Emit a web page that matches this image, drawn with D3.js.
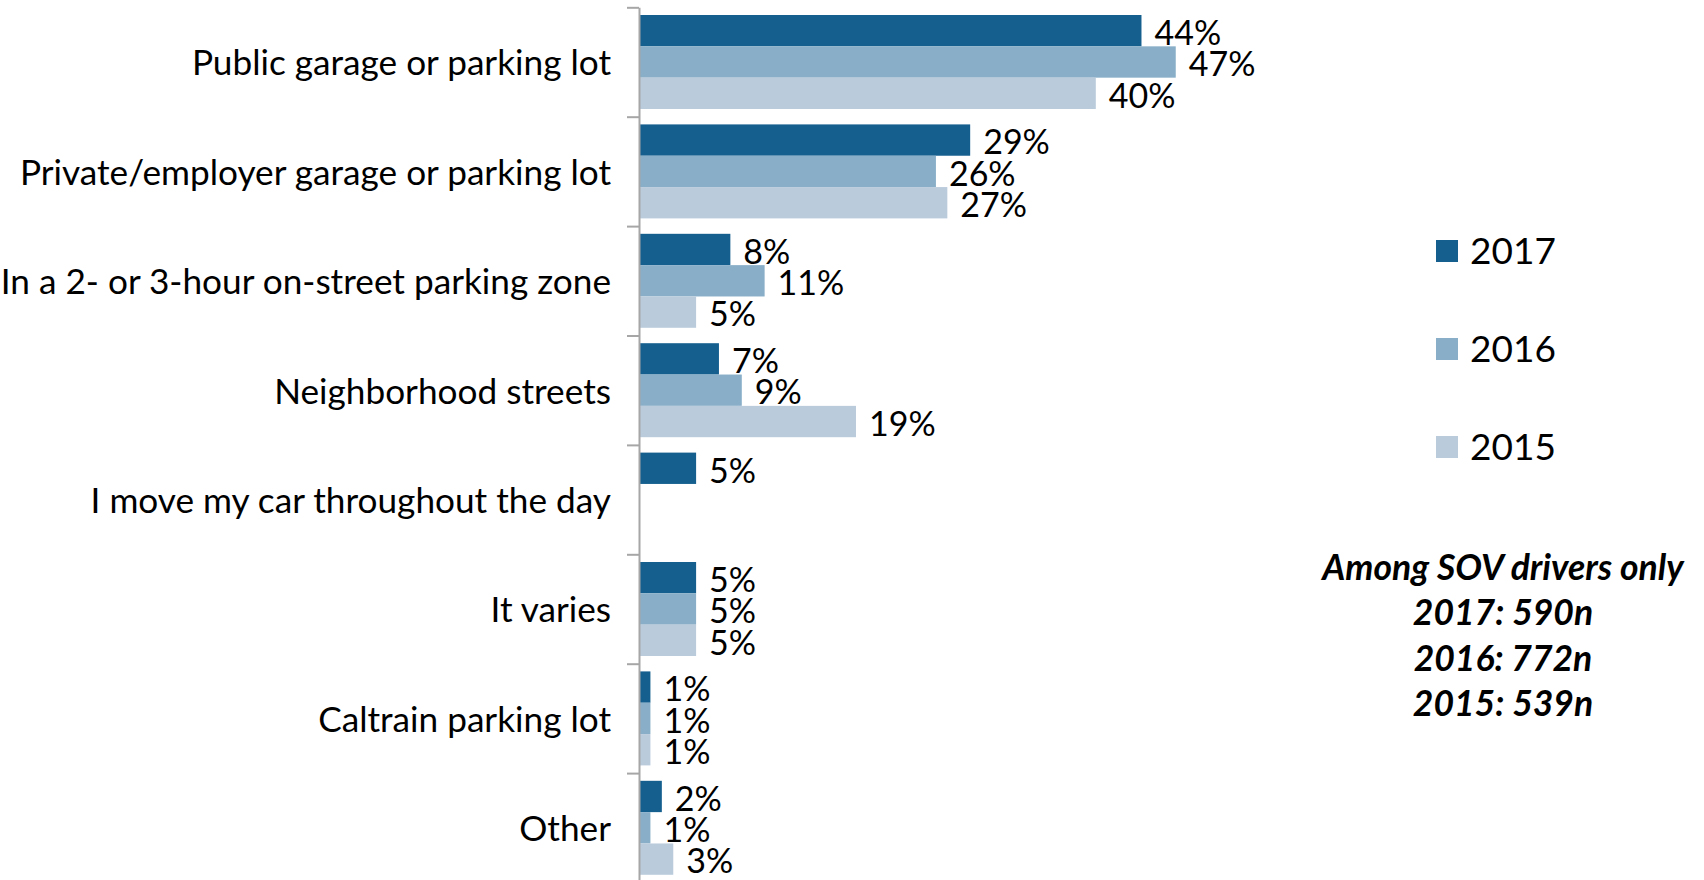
<!DOCTYPE html>
<html>
<head>
<meta charset="utf-8">
<script src="https://cdn.jsdelivr.net/npm/d3@7"></script>
<style>
  html, body { margin: 0; padding: 0; background: #ffffff; }
  svg { display: block; }
  text { font-family: Lato, "Noto Sans", sans-serif; fill: #000; }
</style>
</head>
<body>
<svg id="chart" width="1704" height="880"></svg>
<script>
// Where SOV drivers park, by survey year (percent of respondents)
const categories = [
  "Public garage or parking lot",
  "Private/employer garage or parking lot",
  "In a 2- or 3-hour on-street parking zone",
  "Neighborhood streets",
  "I move my car throughout the day",
  "It varies",
  "Caltrain parking lot",
  "Other"
];
const years = ["2017", "2016", "2015"];
const values2017 = [44, 29, 8, 7, 5, 5, 1, 2];
const values2016 = [47, 26, 11, 9, null, 5, 1, 1];
const values2015 = [40, 27, 5, 19, null, 5, 1, 3];
const seriesColors = ["#155f8f", "#88aec8", "#bacbdc"];
const noteLines = ["Among SOV drivers only", "2017: 590n", "2016: 772n", "2015: 539n"];

const seriesValues = [values2017, values2016, values2015];
const rows = categories.map((c, i) => ({
  category: c,
  bars: years.map((yr, j) => ({ year: yr, value: seriesValues[j][i], color: seriesColors[j] }))
}));

const svg = d3.select("#chart");

// Layout
const axisX = 639;
const plotTop = 7.3;
const bandStep = 109.4;
const pxPerPercent = 11.42;

const x = d3.scaleLinear().domain([0, 50]).range([axisX, axisX + 50 * pxPerPercent]);
const y = d3.scaleBand().domain(categories)
  .range([plotTop, plotTop + categories.length * bandStep]).padding(0);
const yInner = d3.scaleBand().domain(years)
  .range([0, y.bandwidth()]).paddingInner(0).paddingOuter(0.246);

// Bars
const groups = svg.append("g").attr("class", "bars")
  .selectAll("g").data(rows).join("g")
  .attr("transform", d => `translate(0,${y(d.category)})`);

groups.selectAll("rect")
  .data(d => d.bars.filter(b => b.value != null))
  .join("rect")
  .attr("x", x(0))
  .attr("y", b => yInner(b.year))
  .attr("width", b => x(b.value) - x(0))
  .attr("height", yInner.bandwidth())
  .attr("fill", b => b.color);

// Value labels
groups.selectAll("text")
  .data(d => d.bars.filter(b => b.value != null))
  .join("text")
  .attr("x", b => x(b.value) + 13)
  .attr("y", b => yInner(b.year) + yInner.bandwidth() / 2)
  .attr("dy", "0.42em")
  .style("font-size", "34px")
  .text(b => b.value + "%");

// Category axis with tick marks between the categories
const yEdges = d3.scaleLinear().domain([0, categories.length]).range(y.range());
const axis = svg.append("g")
  .attr("transform", `translate(${axisX},0)`)
  .call(d3.axisLeft(yEdges)
    .tickValues(d3.range(categories.length + 1))
    .tickSize(12)
    .tickSizeOuter(0)
    .tickFormat(""));
axis.select(".domain").attr("stroke", "#a6a6a6").attr("stroke-width", 2);
axis.selectAll(".tick line").attr("stroke", "#a6a6a6").attr("stroke-width", 2);

// Category labels
svg.append("g").selectAll("text").data(categories).join("text")
  .attr("x", 611)
  .attr("y", c => y(c) + y.bandwidth() / 2)
  .attr("dy", "0.38em")
  .attr("text-anchor", "end")
  .style("font-size", "35.2px")
  .text(c => c);

// Legend
const legend = svg.append("g").attr("transform", "translate(1436,251)")
  .selectAll("g").data(years).join("g")
  .attr("transform", (yr, i) => `translate(0,${i * 98})`);
legend.append("rect")
  .attr("x", 0).attr("y", -11).attr("width", 22).attr("height", 22)
  .attr("fill", (yr, i) => seriesColors[i]);
legend.append("text")
  .attr("x", 34).attr("y", 0).attr("dy", "0.36em")
  .style("font-size", "37px")
  .text(yr => yr);

// Sample-size note
svg.append("g").selectAll("text").data(noteLines).join("text")
  .attr("x", 1503)
  .attr("y", (t, i) => 567.5 + i * 45.2)
  .attr("dy", "0.36em")
  .attr("text-anchor", "middle")
  .style("font-size", "35.5px")
  .style("font-weight", "bold")
  .style("font-style", "italic")
  .text(t => t);
</script>
</body>
</html>
